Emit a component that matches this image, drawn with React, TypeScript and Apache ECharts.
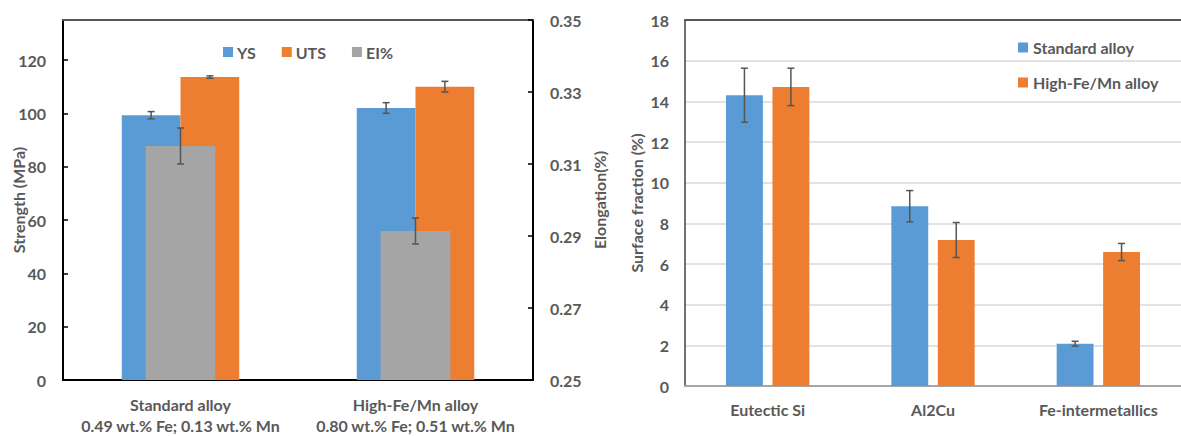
import React, { useEffect, useRef } from "react";
import * as echarts from "echarts";

// ---- Left chart data ----
const alloyNames = ["Standard alloy", "High-Fe/Mn alloy"];
const alloyCompositions = ["0.49 wt.% Fe; 0.13 wt.% Mn", "0.80 wt.% Fe; 0.51 wt.% Mn"];
const ysValues = [99.3, 102.0];
const ysErrors = [1.35, 2.0];
const utsValues = [113.6, 110.0];
const utsErrors = [0.45, 2.0];
const elValues = [0.315, 0.2914];
const elErrors = [0.005, 0.0036];

// ---- Right chart data ----
const phaseCategories = ["Eutectic Si", "Al2Cu", "Fe-intermetallics"];
const standardFractions = [14.3, 8.84, 2.08];
const standardFractionErrors = [1.33, 0.77, 0.12];
const highFeFractions = [14.71, 7.18, 6.59];
const highFeFractionErrors = [0.92, 0.86, 0.42];

const BLUE = "#5B9BD5";
const ORANGE = "#ED7D31";
const GRAY = "#A5A5A5";
const TEXT = "#595959";
const FONT = 'Lato, "Open Sans", sans-serif';

const errRender = (offset: number) => (params: any, api: any) => {
  const xi = api.value(0);
  const v = api.value(1);
  const e = api.value(2);
  const band = api.size([1, 0])[0];
  const c = api.coord([xi, v]);
  const hi = api.coord([xi, v + e]);
  const lo = api.coord([xi, v - e]);
  const x = c[0] + offset * band;
  const cap = 3.5;
  const style = { stroke: "#555555", lineWidth: 1.5 };
  return {
    type: "group",
    children: [
      { type: "line", shape: { x1: x, y1: hi[1], x2: x, y2: lo[1] }, style },
      { type: "line", shape: { x1: x - cap, y1: hi[1], x2: x + cap, y2: hi[1] }, style },
      { type: "line", shape: { x1: x - cap, y1: lo[1], x2: x + cap, y2: lo[1] }, style },
    ],
  };
};

const errData = (vals: number[], errs: number[]) => vals.map((v, i) => [i, v, errs[i]]);

export default function App() {
  const ref = useRef<HTMLDivElement>(null);
  useEffect(() => {
    if (!ref.current) return;
    const chart = echarts.init(ref.current, null, { renderer: "svg" });
    const labelStyle = { color: TEXT, fontWeight: "bold" as const, fontSize: 16, fontFamily: FONT };
    const leftCats = alloyNames.map((n, i) => n + "\n" + alloyCompositions[i]);
    const rightOffset = (0.223 + 0.223 * 0.26) / 2;
    chart.setOption({
      animation: false,
      textStyle: { fontFamily: FONT },
      grid: [
        { left: 63, top: 20, right: 648, bottom: 54 },
        { left: 685, top: 20, right: -5, bottom: 50 },
      ],
      legend: [
        {
          data: ["YS", "UTS", "EI%"],
          left: 218,
          top: 39,
          icon: "rect",
          itemWidth: 10,
          itemHeight: 10,
          itemGap: 26,
          textStyle: { ...labelStyle, padding: [0, 0, 0, -1] },
        },
        {
          data: ["Standard alloy", "High-Fe/Mn alloy"],
          orient: "vertical",
          left: 1013,
          top: 33,
          icon: "rect",
          itemWidth: 10,
          itemHeight: 10,
          itemGap: 16,
          textStyle: { ...labelStyle, lineHeight: 19 },
        },
      ],
      xAxis: [
        {
          type: "category",
          gridIndex: 0,
          data: leftCats,
          axisLine: { lineStyle: { color: "#000", width: 2 } },
          axisTick: { show: false },
          axisLabel: { ...labelStyle, lineHeight: 21, margin: 14, interval: 0 },
        },
        {
          type: "category",
          gridIndex: 0,
          position: "top",
          data: leftCats,
          axisLine: { lineStyle: { color: "#555", width: 2 } },
          axisTick: { show: false },
          axisLabel: { show: false },
        },
        {
          type: "category",
          gridIndex: 1,
          data: phaseCategories,
          axisLine: { lineStyle: { color: "#A6A6A6", width: 2 } },
          axisTick: { show: false },
          axisLabel: { ...labelStyle, margin: 15, interval: 0 },
        },
        {
          type: "category",
          gridIndex: 1,
          position: "top",
          data: phaseCategories,
          axisLine: { lineStyle: { color: "#555", width: 2 } },
          axisTick: { show: false },
          axisLabel: { show: false },
        },
      ],
      yAxis: [
        {
          type: "value",
          gridIndex: 0,
          min: 0,
          max: 135,
          interval: 20,
          name: "Strength (MPa)",
          nameLocation: "middle",
          nameGap: 37,
          nameMoveOverlap: false,
          nameTextStyle: { ...labelStyle },
          axisLine: { show: true, lineStyle: { color: "#000", width: 2 } },
          axisTick: { show: true, inside: true, length: 5, lineStyle: { color: "#000", width: 1.5 } },
          axisLabel: { ...labelStyle, margin: 17, showMaxLabel: false },
          splitLine: { show: false },
        },
        {
          type: "value",
          gridIndex: 0,
          position: "right",
          min: 0.25,
          max: 0.35,
          interval: 0.02,
          name: "Elongation(%)",
          nameLocation: "middle",
          nameGap: 58,
          nameMoveOverlap: false,
          nameTextStyle: { ...labelStyle },
          axisLine: { show: true, lineStyle: { color: "#000", width: 2 } },
          axisTick: { show: true, inside: true, length: 5, lineStyle: { color: "#000", width: 1.5 } },
          axisLabel: { ...labelStyle, margin: 17, formatter: (v: number) => v.toFixed(2) },
          splitLine: { show: false },
        },
        {
          type: "value",
          gridIndex: 1,
          min: 0,
          max: 18,
          interval: 2,
          name: "Surface fraction (%)",
          nameLocation: "middle",
          nameGap: 41,
          nameMoveOverlap: false,
          nameTextStyle: { ...labelStyle },
          axisLine: { show: true, lineStyle: { color: "#404040", width: 1.5 } },
          axisTick: { show: false },
          axisLabel: { ...labelStyle, margin: 16 },
          splitLine: { show: true, lineStyle: { color: "#D9D9D9", width: 1.5 } },
        },
      ],
      series: [
        {
          name: "YS",
          type: "bar",
          xAxisIndex: 0,
          yAxisIndex: 0,
          data: ysValues,
          barWidth: "25%",
          barGap: "0%",
          itemStyle: { color: BLUE },
        },
        {
          name: "UTS",
          type: "bar",
          xAxisIndex: 0,
          yAxisIndex: 0,
          data: utsValues,
          barWidth: "25%",
          barGap: "0%",
          itemStyle: { color: ORANGE },
        },
        {
          name: "EI%",
          type: "bar",
          xAxisIndex: 1,
          yAxisIndex: 1,
          data: elValues,
          barWidth: "29.7%",
          itemStyle: { color: GRAY },
          z: 3,
        },
        {
          name: "ys-err",
          type: "custom",
          xAxisIndex: 0,
          yAxisIndex: 0,
          data: errData(ysValues, ysErrors),
          renderItem: errRender(-0.125),
          encode: { x: 0, y: 1 },
          z: 5,
        },
        {
          name: "uts-err",
          type: "custom",
          xAxisIndex: 0,
          yAxisIndex: 0,
          data: errData(utsValues, utsErrors),
          renderItem: errRender(0.125),
          encode: { x: 0, y: 1 },
          z: 5,
        },
        {
          name: "el-err",
          type: "custom",
          xAxisIndex: 1,
          yAxisIndex: 1,
          data: errData(elValues, elErrors),
          renderItem: errRender(0),
          encode: { x: 0, y: 1 },
          z: 5,
        },
        {
          name: "Standard alloy",
          type: "bar",
          xAxisIndex: 2,
          yAxisIndex: 2,
          data: standardFractions,
          barWidth: "22.3%",
          barGap: "26%",
          itemStyle: { color: BLUE },
        },
        {
          name: "High-Fe/Mn alloy",
          type: "bar",
          xAxisIndex: 2,
          yAxisIndex: 2,
          data: highFeFractions,
          barWidth: "22.3%",
          barGap: "26%",
          itemStyle: { color: ORANGE },
        },
        {
          name: "std-err",
          type: "custom",
          xAxisIndex: 2,
          yAxisIndex: 2,
          data: errData(standardFractions, standardFractionErrors),
          renderItem: errRender(-rightOffset),
          encode: { x: 0, y: 1 },
          z: 5,
        },
        {
          name: "high-err",
          type: "custom",
          xAxisIndex: 2,
          yAxisIndex: 2,
          data: errData(highFeFractions, highFeFractionErrors),
          renderItem: errRender(rightOffset),
          encode: { x: 0, y: 1 },
          z: 5,
        },
      ],
    });
    return () => chart.dispose();
  }, []);
  return (
    <div
      ref={ref}
      style={{ position: "absolute", left: 0, top: 0, width: 1181, height: 436, background: "#fff" }}
    />
  );
}
